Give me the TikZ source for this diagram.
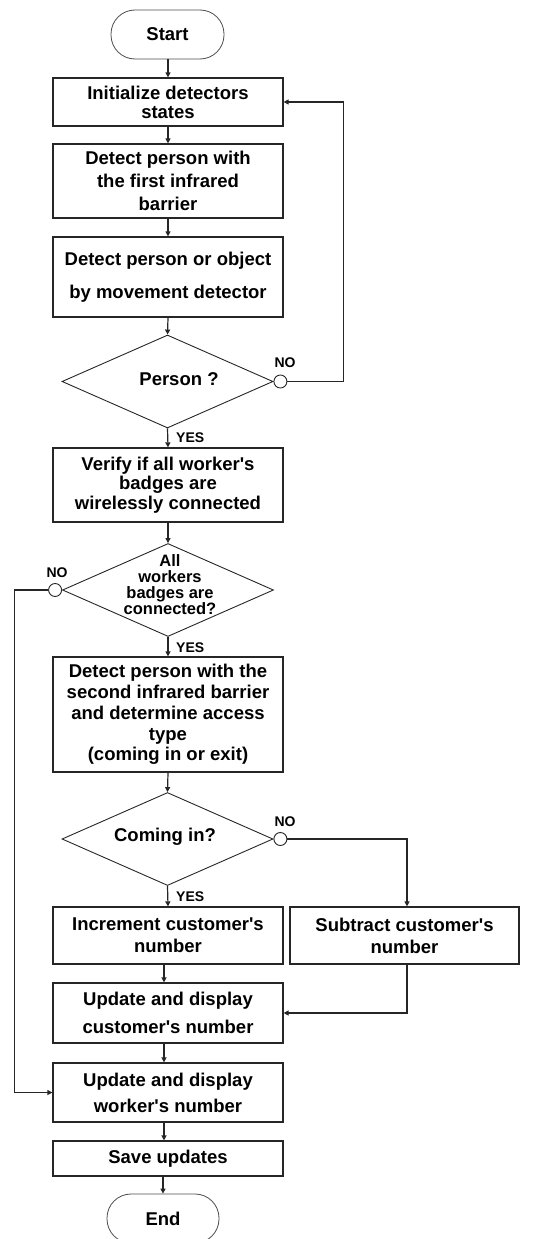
\documentclass[tikz,border=0pt]{standalone}
\usepackage{fontspec}
\setmainfont{Liberation Sans}
\usetikzlibrary{shapes.geometric,arrows.meta}
\newcommand{\apo}{\textquotesingle}
\begin{document}
\begin{tikzpicture}[x=1pt,y=-1pt,
  fs/.style={font=\bfseries\fontsize{18.5}{#1}\selectfont},
  box/.style={draw=black!85,line width=1.2pt,minimum width=230pt,inner sep=0pt,align=center,fs=20},
  term/.style={draw=black!70,line width=0.8pt,rounded corners=24pt,minimum height=49pt,inner sep=0pt,fs=20},
  dia/.style={diamond,draw=black!85,line width=0.9pt,minimum width=211pt,minimum height=93pt,inner sep=0pt,shape aspect=2.27},
  dtext/.style={align=center,inner sep=0pt},
  circ/.style={circle,draw=black!85,line width=0.9pt,minimum size=13pt,inner sep=0pt,fill=white},
  lab/.style={font=\bfseries\fontsize{14}{14}\selectfont,inner sep=0pt},
  arr/.style={-{Triangle[length=5pt,width=5pt]},line width=1.2pt,draw=black!85},
  line/.style={line width=1.2pt,draw=black!85}
]
\useasboundingbox (0,0) rectangle (558,1239);

\node[term,minimum width=113pt] (start) at (167.5,34.5) {Start};
\node[box,minimum height=48pt,fs=19] (init) at (168,102) {Initialize detectors\\states};
\node[box,minimum height=74pt,fs=23] (det1) at (168,181) {Detect person with\\the first infrared\\barrier};
\node[box,minimum height=80pt,fs=33] (det2) at (168,277) {Detect person or object\\by movement detector};
\node[dia] (d1) at (167.5,381.5) {};
\node[dtext,fs=20] (t1) at (179,379) {Person ?};
\node[circ,anchor=west] (c1) at (d1.east) {};
\node[lab] (no1) at (285,363) {NO};
\node[lab,anchor=west] (yes1) at (176,438) {YES};

\node[box,minimum height=74pt,fs=19.5] (ver) at (168,485) {Verify if all worker\apo s\\badges are\\wirelessly connected};
\node[dia] (d2) at (168,590) {};
\node[dtext,font=\bfseries\fontsize{16.5}{16}\selectfont] (t2) at (170,585) {All\\workers\\badges are\\connected?};
\node[circ,anchor=east] (c2) at (d2.west) {};
\node[lab] (no2) at (57,573) {NO};
\node[lab,anchor=west] (yes2) at (176,648) {YES};

\node[box,minimum height=115pt,fs=20.8] (det3) at (168,714.5) {Detect person with the\\second infrared barrier\\and determine access\\type\\(coming in or exit)};
\node[dia] (d3) at (167.5,839) {};
\node[dtext,fs=20] (t3) at (165,837) {Coming in?};
\node[circ,anchor=west] (c3) at (d3.east) {};
\node[lab] (no3) at (285,822) {NO};
\node[lab,anchor=west] (yes3) at (176,897) {YES};

\node[box,minimum height=57pt,fs=22] (inc) at (168,935.5) {Increment customer\apo s\\number};
\node[box,minimum width=229pt,minimum height=57pt,fs=22] (sub) at (404.5,935.5) {Subtract customer\apo s\\number};
\node[box,minimum height=60pt,fs=28] (upc) at (168,1013) {Update and display\\customer\apo s number};
\node[box,minimum height=59pt,fs=26] (upw) at (168,1092.5) {Update and display\\worker\apo s number};
\node[box,minimum height=35pt] (save) at (168,1158.5) {Save updates};
\node[term,minimum width=112pt] (end) at (163,1218.5) {End};

\draw[arr] (start.south -| init.north) -- (init.north);
\draw[arr] (init) -- (det1);
\draw[arr] (det1) -- (det2);
\draw[arr] (det2.south) -- (d1.north);
\draw[arr] (d1.south) -- (ver.north);
\draw[arr] (ver.south) -- (d2.north);
\draw[arr] (d2.south) -- (det3.north);
\draw[arr] (det3.south) -- (d3.north);
\draw[arr] (d3.south) -- (inc.north);
\draw[arr] ([xshift=-4pt]inc.south) -- ([xshift=-4pt]upc.north);
\draw[arr] ([xshift=-4pt]upc.south) -- ([xshift=-4pt]upw.north);
\draw[arr] ([xshift=-4pt]upw.south) -- ([xshift=-4pt]save.north);
\draw[arr] (save.south -| end.north) -- (end.north);

\draw[arr] (c1.east) -| ([xshift=60pt]init.east) -- (init.east);
\draw[arr] (c2.west) -| ([xshift=-38pt]upw.west) -- (upw.west);
\draw[arr] (c3.east) -| ([xshift=2.5pt]sub.north);
\draw[arr] ([xshift=2.5pt]sub.south) |- (upc.east);
\end{tikzpicture}
\end{document}
